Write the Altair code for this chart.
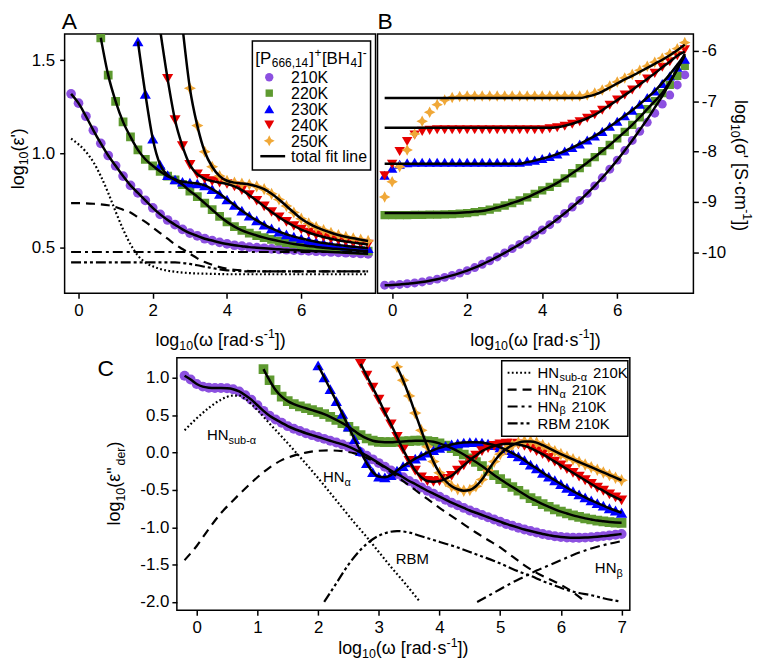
import altair as alt
import pandas as pd

FONT = "Liberation Sans"
TEMPS = ["210K", "220K", "230K", "240K", "250K"]
COL = {"210K": "#8C50E0", "220K": "#5E9A30", "230K": "#0000FF", "240K": "#E60000", "250K": "#F0A838"}
STAR = "M0,-1L0.34,-0.34L1,0L0.34,0.34L0,1L-0.34,0.34L-1,0L-0.34,-0.34Z"
SHAPE = {"210K": "circle", "220K": "square", "230K": "triangle-up", "240K": "triangle-down", "250K": STAR}
N = None

# ---------------- x grids ----------------
X_AB = [round(-0.2 + 0.2 * i, 1) for i in range(41)]
X_C = [round(-0.2 + 0.1 * i, 1) for i in range(73)]

# ---------------- Panel A: log10(eps') ----------------
A_210 = [1.32, 1.27, 1.20, 1.125, 1.055, 0.99, 0.935, 0.88, 0.83, 0.79, 0.75, 0.71, 0.675, 0.645, 0.62, 0.595,
         0.575, 0.56, 0.545, 0.535, 0.525, 0.517, 0.51, 0.505, 0.50, 0.497, 0.494, 0.491, 0.488, 0.486, 0.484,
         0.482, 0.48, 0.478, 0.476, 0.474, 0.472, 0.47, 0.468, 0.466, 0.464]
A_220 = [N, N, N, N, 1.62, 1.42, 1.28, 1.17, 1.09, 1.02, 0.97, 0.935, 0.905, 0.88, 0.86, 0.835, 0.80, 0.77,
         0.735, 0.70, 0.665, 0.635, 0.61, 0.59, 0.575, 0.562, 0.551, 0.541, 0.532, 0.524, 0.517, 0.511, 0.506,
         0.501, 0.497, 0.493, 0.49, 0.487, 0.484, 0.481, 0.478]
A_230 = [N, N, N, N, N, N, N, N, N, 1.60, 1.32, 1.08, 0.94, 0.885, 0.862, 0.85, 0.845, 0.84, 0.83, 0.81, 0.785,
         0.755, 0.725, 0.695, 0.668, 0.643, 0.62, 0.60, 0.583, 0.568, 0.556, 0.546, 0.537, 0.529, 0.522, 0.516,
         0.511, 0.506, 0.502, 0.498, 0.494]
A_240 = [N, N, N, N, N, N, N, N, N, N, N, N, 1.66, 1.40, 1.18, 1.04, 0.94, 0.89, 0.865, 0.853, 0.845, 0.838,
         0.825, 0.805, 0.778, 0.748, 0.718, 0.688, 0.66, 0.635, 0.613, 0.594, 0.578, 0.565, 0.554, 0.545, 0.537,
         0.53, 0.524, 0.519, 0.514]
A_250 = [N, N, N, N, N, N, N, N, N, N, N, N, N, N, N, 1.68, 1.35, 1.15, 1.01, 0.93, 0.88, 0.855, 0.845, 0.84,
         0.835, 0.825, 0.81, 0.785, 0.755, 0.72, 0.685, 0.652, 0.627, 0.607, 0.591, 0.577, 0.565, 0.555, 0.547,
         0.54, 0.533]
A_SUB = [1.08, 1.05, 1.01, 0.955, 0.88, 0.79, 0.69, 0.595, 0.515, 0.455, 0.418, 0.397, 0.383, 0.374, 0.368,
         0.364, 0.361, 0.359, 0.358, 0.357, 0.356] + [0.355] * 20
A_ALPHA = [0.735, 0.735, 0.734, 0.732, 0.729, 0.724, 0.715, 0.70, 0.685, 0.66, 0.635, 0.605, 0.575, 0.545,
           0.515, 0.49, 0.465, 0.44, 0.42, 0.405, 0.393, 0.385, 0.379, 0.375, 0.372, 0.371] + [0.37] * 15
A_BETA = [0.474] * 41
A_RBM = [0.418] * 15 + [0.415, 0.41, 0.403, 0.395, 0.388, 0.381, 0.376, 0.373, 0.371] + [0.37] * 17

# ---------------- Panel B: log10(sigma') ----------------
B_210 = [-10.65, -10.645, -10.635, -10.62, -10.605, -10.585, -10.56, -10.53, -10.495, -10.455, -10.41, -10.36,
         -10.30, -10.235, -10.165, -10.09, -10.01, -9.925, -9.84, -9.75, -9.655, -9.555, -9.45, -9.34, -9.225,
         -9.10, -8.97, -8.83, -8.68, -8.52, -8.35, -8.17, -7.98, -7.78, -7.60, -7.42, -7.24, -7.06, -6.88,
         -6.68, -6.48]
B_220 = [-9.26, -9.26, -9.26, -9.26, -9.255, -9.255, -9.25, -9.25, -9.245, -9.24, -9.23, -9.22, -9.20, -9.18,
         -9.15, -9.11, -9.07, -9.02, -8.97, -8.91, -8.84, -8.77, -8.70, -8.62, -8.53, -8.43, -8.33, -8.22,
         -8.11, -7.99, -7.87, -7.74, -7.61, -7.47, -7.32, -7.16, -7.00, -6.84, -6.68, -6.50, -6.30]
B_230 = [-8.47, -8.33, -8.25, -8.22] + [-8.21] * 15 + [-8.19, -8.17, -8.14, -8.10, -8.05, -7.99, -7.92, -7.85,
         -7.77, -7.69, -7.60, -7.50, -7.40, -7.29, -7.18, -7.06, -6.93, -6.80, -6.65, -6.50, -6.33, -6.17]
B_240 = [-8.48, -8.25, -8.00, -7.80, -7.67, -7.60, -7.58] + [-7.57] * 15 + [-7.55, -7.53, -7.50, -7.46, -7.41,
         -7.34, -7.27, -7.18, -7.08, -6.98, -6.88, -6.78, -6.67, -6.56, -6.45, -6.33, -6.22, -6.10, -5.98]
B_250 = [-8.90, -8.60, -8.30, -7.97, -7.65, -7.40, -7.22, -7.07, -6.98, -6.93, -6.91] + [-6.90] * 16 + [
         -6.88, -6.84, -6.78, -6.70, -6.62, -6.54, -6.47, -6.39, -6.31, -6.23, -6.15, -6.06, -5.96, -5.84]
B_FIT_210 = B_210[:34] + [-7.57, -7.36, -7.13, -6.90, -6.64, -6.36, -6.06]
B_FIT_220 = [-9.22] * 10 + [-9.215, -9.205, -9.19] + B_220[13:38] + [-6.62, -6.37, -6.10]
B_FIT_230 = [-8.24] * 19 + [-8.21, -8.18, -8.14] + B_230[22:37] + [-6.64, -6.47, -6.28, -6.08]
B_FIT_240 = [-7.53] * 23 + [-7.52, -7.49, -7.45, -7.40] + B_240[27:40] + [-6.02]
B_FIT_250 = [-6.94] * 27 + [-6.91, -6.87, -6.81, -6.73, -6.65, -6.57, -6.50, -6.42, -6.34, -6.26, -6.18,
             -6.09, -5.99, -5.88]

# ---------------- Panel C: log10(eps''_der) ----------------
C_210 = [1.03, 0.98, 0.92, 0.885, 0.87, 0.865, 0.865, 0.862, 0.85, 0.82, 0.77, 0.71, 0.635, 0.56, 0.495, 0.445,
         0.40, 0.355, 0.32, 0.29, 0.26, 0.235, 0.21, 0.185, 0.16, 0.135, 0.11, 0.08, 0.045, 0.005, -0.04, -0.09,
         -0.14, -0.19, -0.24, -0.285, -0.33, -0.38, -0.42, -0.465, -0.51, -0.55, -0.59, -0.63, -0.67, -0.705,
         -0.74, -0.775, -0.805, -0.835, -0.865, -0.895, -0.925, -0.955, -0.98, -1.005, -1.03, -1.05, -1.07,
         -1.09, -1.105, -1.12, -1.13, -1.137, -1.14, -1.14, -1.138, -1.133, -1.126, -1.118, -1.11, -1.10, -1.09]
C_220 = [N] * 13 + [1.12, 0.97, 0.84, 0.75, 0.69, 0.65, 0.62, 0.595, 0.57, 0.545, 0.515, 0.48, 0.44, 0.395,
         0.345, 0.29, 0.235, 0.19, 0.16, 0.145, 0.14, 0.14, 0.145, 0.15, 0.155, 0.16, 0.16, 0.155, 0.145, 0.125,
         0.095, 0.06, 0.02, -0.025, -0.075, -0.125, -0.18, -0.24, -0.30, -0.355, -0.41, -0.46, -0.51, -0.56,
         -0.61, -0.65, -0.69, -0.725, -0.76, -0.79, -0.815, -0.84, -0.86, -0.88, -0.895, -0.91, -0.92, -0.93,
         -0.937, -0.94]
C_230 = [N] * 22 + [1.17, 1.01, 0.85, 0.69, 0.52, 0.35, 0.18, 0.02, -0.14, -0.26, -0.32, -0.33, -0.30, -0.24,
         -0.18, -0.13, -0.08, -0.04, 0.0, 0.035, 0.065, 0.09, 0.11, 0.125, 0.135, 0.14, 0.14, 0.135, 0.12, 0.10,
         0.07, 0.035, -0.005, -0.05, -0.10, -0.16, -0.21, -0.27, -0.32, -0.37, -0.42, -0.47, -0.515, -0.56,
         -0.60, -0.64, -0.675, -0.71, -0.745, -0.775, -0.805]
C_240 = [N] * 29 + [1.19, 1.03, 0.87, 0.71, 0.54, 0.38, 0.21, 0.04, -0.11, -0.24, -0.33, -0.38, -0.39, -0.38,
         -0.35, -0.31, -0.24, -0.17, -0.10, -0.04, 0.02, 0.06, 0.09, 0.11, 0.12, 0.12, 0.11, 0.09, 0.06, 0.02,
         -0.02, -0.07, -0.12, -0.17, -0.22, -0.27, -0.32, -0.37, -0.42, -0.47, -0.51, -0.56, -0.60, -0.64]
C_250 = [N] * 35 + [1.15, 0.97, 0.76, 0.53, 0.30, 0.08, -0.12, -0.27, -0.38, -0.45, -0.49, -0.51, -0.50, -0.45,
         -0.36, -0.24, -0.12, -0.02, 0.05, 0.10, 0.135, 0.15, 0.15, 0.135, 0.10, 0.06, 0.02, -0.02, -0.055,
         -0.09, -0.125, -0.16, -0.195, -0.23, -0.265, -0.30, -0.335, -0.37]
C_SUB_X = [-0.2, 0.0, 0.2, 0.4, 0.6, 0.7, 0.8, 1.0, 1.2, 1.4, 1.6, 1.8, 2.0, 2.2, 2.4, 2.6, 2.8, 3.0, 3.2, 3.4, 3.66]
C_SUB_Y = [0.30, 0.46, 0.60, 0.71, 0.765, 0.765, 0.72, 0.57, 0.39, 0.215, 0.035, -0.15, -0.34, -0.54, -0.74,
           -0.94, -1.13, -1.33, -1.53, -1.72, -1.98]
C_ALPHA_X = [-0.2, 0.0, 0.2, 0.4, 0.6, 0.8, 1.0, 1.2, 1.4, 1.6, 1.8, 2.0, 2.2, 2.4, 2.6, 2.8, 3.0, 3.2, 3.4,
             3.6, 3.8, 4.0, 4.2, 4.4, 4.6, 4.8, 5.0, 5.2, 5.4, 5.6, 5.8, 6.0, 6.2, 6.36]
C_ALPHA_Y = [-1.44, -1.25, -1.02, -0.81, -0.64, -0.48, -0.33, -0.20, -0.10, -0.04, 0.0, 0.025, 0.03, 0.02,
             -0.01, -0.07, -0.15, -0.26, -0.38, -0.50, -0.62, -0.74, -0.85, -0.96, -1.07, -1.17, -1.27, -1.39,
             -1.51, -1.61, -1.69, -1.77, -1.87, -1.97]
C_BETA_X = [4.62, 4.8, 5.0, 5.2, 5.4, 5.6, 5.8, 6.0, 6.2, 6.4, 6.6, 6.8, 6.97]
C_BETA_Y = [-2.0, -1.92, -1.83, -1.74, -1.66, -1.58, -1.51, -1.44, -1.37, -1.31, -1.26, -1.22, -1.19]
C_RBM_X = [2.1, 2.3, 2.5, 2.7, 2.9, 3.1, 3.3, 3.5, 3.7, 3.9, 4.1, 4.3, 4.5, 4.7, 4.9, 5.1, 5.3, 5.5, 5.7, 5.9,
           6.1, 6.3, 6.5, 6.7, 6.95]
C_RBM_Y = [-2.0, -1.75, -1.5, -1.3, -1.16, -1.08, -1.05, -1.07, -1.12, -1.17, -1.22, -1.27, -1.33, -1.39,
           -1.45, -1.52, -1.59, -1.65, -1.72, -1.78, -1.84, -1.88, -1.91, -1.95, -1.99]

A_T = dict(zip(TEMPS, [A_210, A_220, A_230, A_240, A_250]))
B_T = dict(zip(TEMPS, [B_210, B_220, B_230, B_240, B_250]))
B_F = dict(zip(TEMPS, [B_FIT_210, B_FIT_220, B_FIT_230, B_FIT_240, B_FIT_250]))
C_T = dict(zip(TEMPS, [C_210, C_220, C_230, C_240, C_250]))

DOT = [1.8, 2.4]
DASH = [9, 6]
DASHDOT = [10, 4, 3, 4]
DASHDOTDOT = [10, 3, 3, 3, 3, 3]

# ---------------- text helpers ----------------
CW = {' ': 278, '"': 355, "'": 191, '(': 333, ')': 333, '+': 584, ',': 278, '-': 333, '.': 278,
      '[': 278, ']': 278, 'A': 667, 'B': 667, 'C': 722, 'H': 722, 'K': 667, 'M': 833, 'N': 722, 'P': 667,
      'R': 722, 'S': 667, 'a': 556, 'b': 556, 'c': 500, 'd': 556, 'e': 556, 'f': 278, 'g': 556, 'i': 222,
      'l': 222, 'm': 833, 'n': 556, 'o': 556, 'r': 333, 's': 500, 't': 278, 'u': 556, '·': 278, 'ε': 560,
      'ω': 840, 'α': 660, 'β': 640, 'σ': 640}


def tw(s, size):
    return sum(CW.get(c, 556) for c in s) * size / 1000.0


ONE = pd.DataFrame({"k": [0]})


def txt(t, size, x, y, angle=0, baseline="alphabetic", opacity=1, dx=0, dy=0):
    kw = dict(text=t, fontSize=size, font=FONT, color="black", align="left", baseline=baseline,
              angle=angle, opacity=opacity)
    if dx:
        kw["dx"] = dx
    if dy:
        kw["dy"] = dy
    return alt.Chart(ONE).mark_text(**kw).encode(x=x, y=y)


def rich_px(pieces, x, y, angle=0, anchor="start"):
    """pieces: (text, size, baseline shift, [gap before])"""
    gaps = [p[3] if len(p) > 3 else 0 for p in pieces]
    widths = [tw(p[0], p[1]) for p in pieces]
    pos = -(sum(widths) + sum(gaps)) / 2 if anchor == "middle" else 0
    out = []
    for p, w, g in zip(pieces, widths, gaps):
        t, s, sh = p[0], p[1], p[2]
        pos += g
        if angle == 0:
            px, py = x + pos, y + sh
        elif angle == 270:
            px, py = x + sh, y - pos
        else:
            px, py = x - sh, y + pos
        out.append(txt(t, s, alt.value(px), alt.value(py), angle=angle))
        pos += w
    return out


def rich_dat(pieces, xd, yd, main=15):
    out = []
    pos = 0
    for t, s, sh in pieces:
        out.append(txt(t, s, alt.datum(xd), alt.datum(yd), dx=pos if pos else 0.001, dy=0.36 * main + sh))
        pos += tw(t, s)
    return out


def omega_title(sub=4.5):
    return [("log", 18, 0), ("10", 12.5, sub), ("(ω [rad·s", 18, 0), ("-1", 12.5, -7.5), ("])", 18, 0)]


def anchor(x, y):
    return txt(" ", 10, alt.value(x), alt.value(y), baseline="top", opacity=0)


def markers(xs, ys, t, size, xe, ye):
    df = pd.DataFrame({"x": xs, "y": ys}).dropna()
    return alt.Chart(df).mark_point(shape=SHAPE[t], filled=True, color=COL[t], size=size, opacity=1,
                                    clip=True).encode(x=xe, y=ye)


def line(xs, ys, xe, ye, dash=None, width=2.5):
    df = pd.DataFrame({"x": xs, "y": ys}).dropna()
    kw = dict(color="black", strokeWidth=width, interpolate="monotone", clip=True)
    if dash:
        kw["strokeDash"] = dash
    return alt.Chart(df).mark_line(**kw).encode(x=xe, y=ye)


MINUS = "replace(format(datum.value, '%s'), '\u2212', '-')"

# ---------------- Panel A ----------------
A_W, A_H = 313, 261
xA = alt.X("x:Q", scale=alt.Scale(domain=[-0.374, 8.0], nice=False, zero=False),
           axis=alt.Axis(values=[0, 2, 4, 6], format="d", title=None, labelPadding=4))
yA = alt.Y("y:Q", scale=alt.Scale(domain=[0.253, 1.64], nice=False, zero=False),
           axis=alt.Axis(values=[0.5, 1.0, 1.5], format=".1f", title=None, labelPadding=5))
SZ_A = {"210K": 95, "220K": 78, "230K": 125, "240K": 125, "250K": 150}
la = [markers(X_AB, A_T[t], t, SZ_A[t], xA, yA) for t in TEMPS]
la += [line(X_AB, A_SUB, xA, yA, DOT, 2.2), line(X_AB, A_ALPHA, xA, yA, DASH, 2.2),
       line(X_AB, A_BETA, xA, yA, DASHDOT, 2.2), line(X_AB, A_RBM, xA, yA, DASHDOTDOT, 2.2)]
la += [line(X_AB, A_T[t], xA, yA) for t in TEMPS]
la.append(alt.Chart(ONE).mark_rect(fill="white", stroke="black", strokeWidth=1.5).encode(
    x=alt.value(189), x2=alt.value(308), y=alt.value(7), y2=alt.value(137)))
la += rich_px([("[P", 17, 0), ("666,14", 12, 3, 0.5), ("]", 17, 0, 1), ("+", 12, -7, 0.5), ("[BH", 17, 0, 0.5),
               ("4", 12, 3, 0.5), ("]", 17, 0, 0.5), ("-", 12, -7, 0.5)], 192, 30.5)
LEG_SZ = {"210K": 70, "220K": 55, "230K": 100, "240K": 100, "250K": 120}
for i, t in enumerate(TEMPS):
    cy = 43.5 + 16 * i
    la.append(alt.Chart(ONE).mark_point(shape=SHAPE[t], filled=True, color=COL[t], size=LEG_SZ[t],
                                        opacity=1).encode(x=alt.value(206), y=alt.value(cy)))
    la.append(txt(t, 16, alt.value(228), alt.value(cy + 5.8)))
la.append(alt.Chart(ONE).mark_rule(color="black", strokeWidth=2.5).encode(
    x=alt.value(197), x2=alt.value(222), y=alt.value(123)))
la.append(txt("total fit line", 16, alt.value(228), alt.value(128.8)))
la.append(txt("A", 23, alt.value(-3), alt.value(-4.8)))
la += rich_px([("log", 18, 0), ("10", 12.5, 4.5), ("(ε')", 18, 0)], -41, 124.5, angle=270, anchor="middle")
la += rich_px(omega_title(), 157, 313.7, anchor="middle")
la.append(anchor(-55.5, -23))
panelA = alt.layer(*la).properties(width=A_W, height=A_H)

# ---------------- Panel B ----------------
B_W, B_H = 318, 261
xB = alt.X("x:Q", scale=alt.Scale(domain=[-0.39, 8.03], nice=False, zero=False),
           axis=alt.Axis(values=[0, 2, 4, 6], format="d", title=None, labelPadding=4))
yB = alt.Y("y:Q", scale=alt.Scale(domain=[-10.81, -5.67], nice=False, zero=False),
           axis=alt.Axis(orient="right", values=[-10, -9, -8, -7, -6], labelExpr=MINUS % "d", title=None,
                         labelPadding=3))
SZ_B = {"210K": 80, "220K": 70, "230K": 110, "240K": 110, "250K": 135}
lb = [markers(X_AB, B_T[t], t, SZ_B[t], xB, yB) for t in TEMPS]
lb += [line(X_AB, B_F[t], xB, yB) for t in TEMPS]
lb.append(txt("B", 23, alt.value(0), alt.value(-4.8)))
lb += rich_px(omega_title(), 159, 313.7, anchor="middle")
lb += rich_px([("log", 18, 0), ("10", 12.5, 4.5), ("(σ' [S·cm", 18, 0), ("-1", 12.5, -7.5), ("])", 18, 0)],
              360, 132.5, angle=90, anchor="middle")
lb.append(anchor(0, -23))
panelB = alt.layer(*lb).properties(width=B_W, height=B_H)

# ---------------- Panel C ----------------
C_W, C_H = 456, 254
xC = alt.X("x:Q", scale=alt.Scale(domain=[-0.327, 7.136], nice=False, zero=False),
           axis=alt.Axis(values=[0, 1, 2, 3, 4, 5, 6, 7], format="d", title=None, labelPadding=4))
yC = alt.Y("y:Q", scale=alt.Scale(domain=[-2.11, 1.27], nice=False, zero=False),
           axis=alt.Axis(values=[-2, -1.5, -1, -0.5, 0, 0.5, 1], labelExpr=MINUS % ".1f", title=None,
                         labelPadding=3))
SZ_C = {"210K": 100, "220K": 95, "230K": 130, "240K": 130, "250K": 160}
lc = [markers(X_C, C_T[t], t, SZ_C[t], xC, yC) for t in TEMPS]
lc += [line(C_SUB_X, C_SUB_Y, xC, yC, DOT, 2.2), line(C_ALPHA_X, C_ALPHA_Y, xC, yC, DASH, 2.2),
       line(C_BETA_X, C_BETA_Y, xC, yC, DASHDOT, 2.2), line(C_RBM_X, C_RBM_Y, xC, yC, DASHDOTDOT, 2.2)]
lc += [line(X_C, C_T[t], xC, yC) for t in TEMPS]
lc += rich_dat([("HN", 15, 0), ("sub-α", 11, 4)], 0.17, 0.24)
lc += rich_dat([("HN", 15, 0), ("α", 11, 4)], 2.08, -0.32)
lc += rich_dat([("RBM", 15, 0)], 3.28, -1.42)
lc += rich_dat([("HN", 15, 0), ("β", 11, 4)], 6.56, -1.54)
lc.append(alt.Chart(ONE).mark_rect(fill="white", stroke="black", strokeWidth=1.5).encode(
    x=alt.value(327), x2=alt.value(454), y=alt.value(3), y2=alt.value(79)))
LEG_C = [([("HN", 15, 0), ("sub-α", 11, 3, 0.5), ("210K", 15, 0, 5)], DOT),
         ([("HN", 15, 0), ("α", 11, 3, 0.5), ("210K", 15, 0, 5)], DASH),
         ([("HN", 15, 0), ("β", 11, 2.5, 0.5), ("210K", 15, 0, 5)], DASHDOT),
         ([("RBM", 15, 0), ("210K", 15, 0, 4.5)], DASHDOTDOT)]
for i, (pcs, dash) in enumerate(LEG_C):
    cy = 15 + 17 * i
    lc.append(alt.Chart(ONE).mark_rule(color="black", strokeWidth=2.2, strokeDash=dash).encode(
        x=alt.value(333), x2=alt.value(357), y=alt.value(cy)))
    lc += rich_px(pcs, 363, cy + 5.4)
lc.append(txt("C", 23, alt.value(-80), alt.value(18)))
lc += rich_px([("log", 18, 0), ("10", 12.5, 4.5), ('(ε"', 18, 0), ("der", 12.5, 4.5), (")", 18, 0)],
              -57, 126.5, angle=270, anchor="middle")
lc += rich_px(omega_title(4), 228, 298.5, anchor="middle")
lc.append(anchor(-100, -2))
panelC = alt.layer(*lc).properties(width=C_W, height=C_H)

spacer = alt.Chart(ONE).mark_point(opacity=0).encode(x=alt.value(0), y=alt.value(0)).properties(
    width=12, height=10, view=alt.ViewBackground(strokeOpacity=0))

row1 = alt.hconcat(panelA, panelB, spacing=0)
row2 = alt.hconcat(spacer, panelC, spacing=0)
chart = alt.vconcat(row1, row2, spacing=1).configure(background="white", padding=0).configure_view(
    stroke="black", strokeWidth=1.5).configure_axis(
    labelFont=FONT, labelFontSize=17, labelColor="black", tickColor="black", tickWidth=1.5, tickSize=5,
    domain=False, grid=False)

chart.save("out.html", embed_options={"renderer": "svg", "actions": False})
